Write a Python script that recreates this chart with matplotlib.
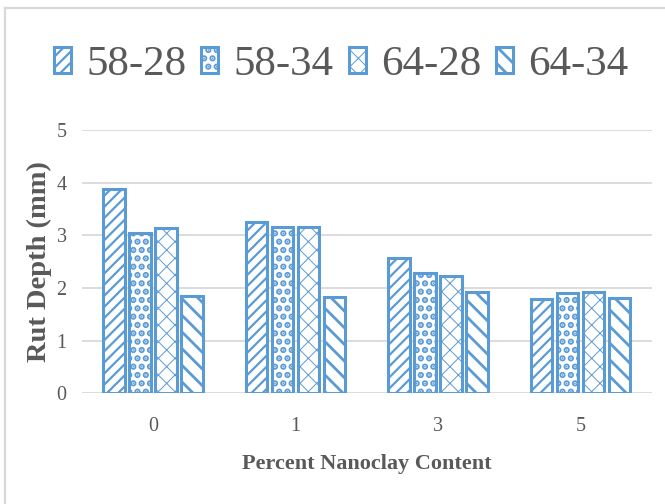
import matplotlib
matplotlib.use("Agg")
import matplotlib.pyplot as plt
import numpy as np
from matplotlib.lines import Line2D

# Rut depth (mm) by percent nanoclay content for each binder grade
categories = ["0", "1", "3", "5"]
series = ["58-28", "58-34", "64-28", "64-34"]
rut_58_28 = [3.87, 3.25, 2.56, 1.78]
rut_58_34 = [3.05, 3.15, 2.28, 1.91]
rut_64_28 = [3.14, 3.15, 2.23, 1.93]
rut_64_34 = [1.85, 1.83, 1.92, 1.81]
values = [rut_58_28, rut_58_34, rut_64_28, rut_64_34]

BLUE = "#5B9BD5"
GRID = "#D9D9D9"
TEXT = "#595959"
hatches = ["///", "..", "xx", "\\\\"]
hatch_lws = [1.6, 3.2, 0.7, 2.0]

plt.rcParams["font.family"] = ["Liberation Serif", "DejaVu Serif"]

fig = plt.figure(figsize=(6.65, 5.04), dpi=100)
ax = fig.add_axes([0.123, 0.220, 0.857, 0.522])

x = np.arange(len(categories))
step = 0.182
width = 0.15
offsets = (np.arange(len(series)) - (len(series) - 1) / 2) * step

for i, (name, vals) in enumerate(zip(series, values)):
    with plt.rc_context({"hatch.linewidth": hatch_lws[i]}):
        bars = ax.bar(x + offsets[i], vals, width, label=name,
                      facecolor="white", edgecolor=BLUE, linewidth=2.2,
                      hatch=hatches[i], zorder=3)
    for b in bars:
        if hasattr(b, "set_hatch_linewidth"):
            b.set_hatch_linewidth(hatch_lws[i])

ax.set_xlim(-0.5, len(categories) - 0.5)
ax.set_ylim(0, 5)
ax.set_yticks(range(0, 6))
ax.set_xticks(x)
ax.set_xticklabels(categories)
ax.yaxis.grid(True, color=GRID, linewidth=1.3, zorder=0)
ax.set_axisbelow(True)
for s in ax.spines.values():
    s.set_visible(False)
ax.tick_params(axis="both", length=0, labelsize=14.5, labelcolor=TEXT)
ax.tick_params(axis="x", pad=17)
ax.tick_params(axis="y", pad=11)

ax.set_xlabel("Percent Nanoclay Content", fontsize=16, fontweight="bold",
              color=TEXT, labelpad=13)
ax.set_ylabel("Rut Depth (mm)", fontsize=20.5, fontweight="bold",
              color=TEXT, labelpad=3)

leg = fig.legend(loc="center", bbox_to_anchor=(0.513, 0.871), ncol=4,
                 frameon=False, fontsize=31, handlelength=0.4,
                 handleheight=0.55, handletextpad=0.35, columnspacing=0.35,
                 labelcolor=TEXT)
for h, lw in zip(leg.legend_handles, hatch_lws):
    if hasattr(h, "set_hatch_linewidth"):
        h.set_hatch_linewidth(lw)

# light chart-area border along the top and left edges
fig.add_artist(Line2D([0.008, 1.0], [0.984, 0.984], transform=fig.transFigure,
                      color=GRID, linewidth=1.6))
fig.add_artist(Line2D([0.008, 0.008], [0.0, 0.984], transform=fig.transFigure,
                      color=GRID, linewidth=1.6))

fig.savefig("out.png", dpi=100)
